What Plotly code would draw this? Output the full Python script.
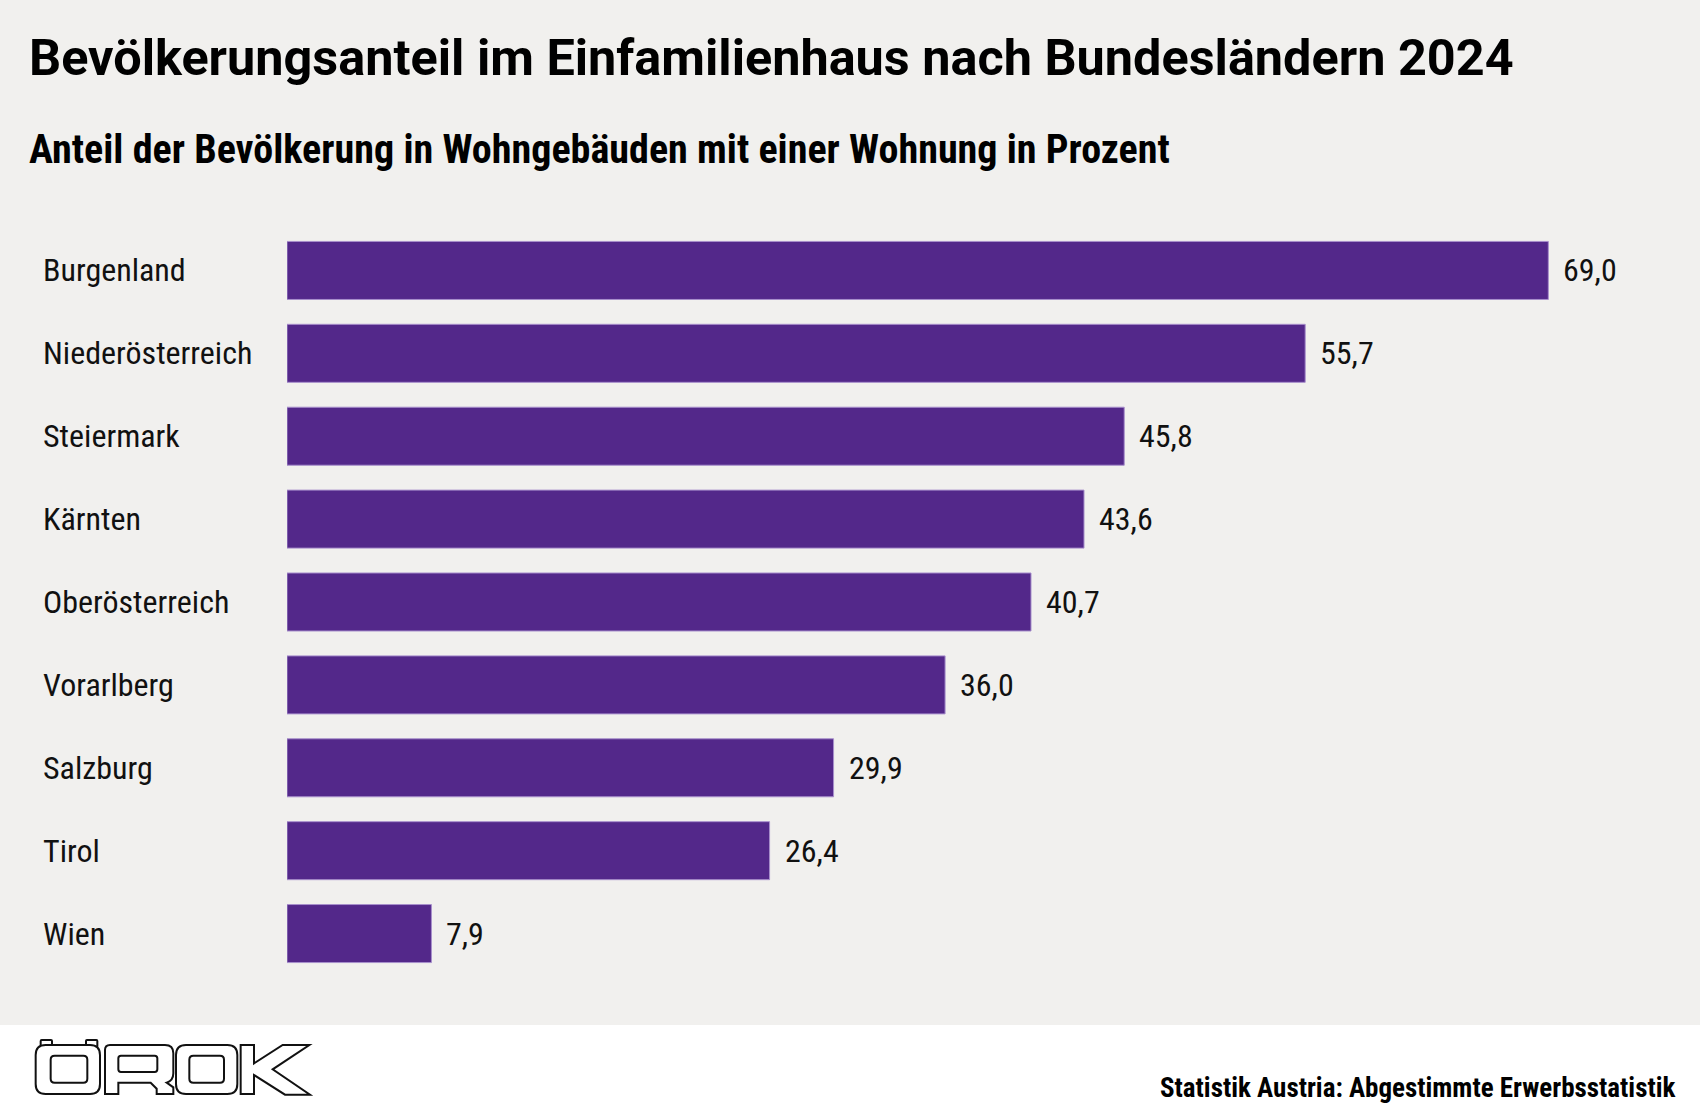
import plotly.graph_objects as go

# ---------------- data ----------------
regions = ["Burgenland", "Niederösterreich", "Steiermark", "Kärnten", "Oberösterreich",
           "Vorarlberg", "Salzburg", "Tirol", "Wien"]
shares = [69.0, 55.7, 45.8, 43.6, 40.7, 36.0, 29.9, 26.4, 7.9]
value_labels = [f"{v:.1f}".replace(".", ",") for v in shares]

title = "Bevölkerungsanteil im Einfamilienhaus nach Bundesländern 2024"
subtitle = "Anteil der Bevölkerung in Wohngebäuden mit einer Wohnung in Prozent"
source = "Statistik Austria: Abgestimmte Erwerbsstatistik"

# ---------------- layout geometry ----------------
W_FIG, H_FIG = 1700, 1110
L, R, T, B = 287, 42, 229, 135
PW, PH = W_FIG - L - R, H_FIG - T - B

BG = "#f1f0ee"
BAR = "#53288a"
COND = "Roboto Condensed, Liberation Sans Narrow, DejaVu Sans Condensed, Roboto, sans-serif"
BOLD = "Roboto, sans-serif"


def px(x):
    return (x - L) / PW


def py(y):
    return 1 - (y - T) / PH


fig = go.Figure()
fig.add_trace(go.Bar(
    x=shares, y=regions, orientation="h",
    marker=dict(color=BAR, line=dict(color="#a88fcc", width=1)),
    hoverinfo="skip",
))

annotations = []
# category labels
for reg in regions:
    annotations.append(dict(x=px(41), xref="paper", y=reg, yref="y", text=reg,
                            showarrow=False, xanchor="left", yanchor="middle",
                            font=dict(family=COND, size=32, color="#111111")))
# value labels
for reg, v, lab in zip(regions, shares, value_labels):
    annotations.append(dict(x=v, xref="x", y=reg, yref="y", text=lab, showarrow=False,
                            xanchor="left", yanchor="middle", xshift=13,
                            font=dict(family=COND, size=32, color="#111111")))
# titles
annotations.append(dict(x=px(27), xref="paper", y=py(26), yref="paper", text=f"<b>{title}</b>",
                        showarrow=False, xanchor="left", yanchor="top",
                        font=dict(family=BOLD, size=50.4, color="#000000")))
annotations.append(dict(x=px(27), xref="paper", y=py(124), yref="paper", text=f"<b>{subtitle}</b>",
                        showarrow=False, xanchor="left", yanchor="top",
                        font=dict(family=COND, size=40.1, color="#000000")))
annotations.append(dict(x=px(1677), xref="paper", y=py(1106), yref="paper", text=f"<b>{source}</b>",
                        showarrow=False, xanchor="right", yanchor="bottom",
                        font=dict(family=COND, size=27, color="#000000")))

shapes = []
# white footer
shapes.append(dict(type="rect", xref="paper", yref="paper", x0=px(0), x1=px(W_FIG),
                   y0=py(1025), y1=py(H_FIG), fillcolor="white", line=dict(width=0), layer="below"))


# ---------------- ÖROK logo (decorative outline drawing) ----------------
def zx(z):
    return z / 3.0


def zy(z):
    return 1010 + z / 3.0


def P(x, y):
    return f"{px(zx(x)):.5f},{py(zy(y)):.5f}"


def rrect(x0, y0, x1, y1, r):
    return (f"M{P(x0 + r, y0)} L{P(x1 - r, y0)} Q{P(x1, y0)} {P(x1, y0 + r)} "
            f"L{P(x1, y1 - r)} Q{P(x1, y1)} {P(x1 - r, y1)} L{P(x0 + r, y1)} "
            f"Q{P(x0, y1)} {P(x0, y1 - r)} L{P(x0, y0 + r)} Q{P(x0, y0)} {P(x0 + r, y0)} Z")


def poly(pts):
    return "M" + " L".join(P(x, y) for x, y in pts) + " Z"


logo_line = dict(color="#111111", width=2)
logo_paths = [
    # Ö dots
    rrect(122, 90, 156, 112, 3),
    rrect(258, 90, 292, 112, 3),
    # Ö
    rrect(107, 105, 300, 252, 30),
    rrect(152, 137, 262, 218, 12),
    # O
    rrect(528, 105, 712, 252, 30),
    rrect(568, 137, 672, 218, 12),
]
# R outline
r_path = (f"M{P(315, 252)} L{P(315, 120)} Q{P(315, 105)} {P(330, 105)} L{P(495, 105)} "
          f"Q{P(520, 105)} {P(520, 130)} L{P(520, 190)} Q{P(520, 212)} {P(500, 218)} "
          f"L{P(520, 232)} L{P(520, 252)} L{P(470, 252)} L{P(470, 236)} L{P(452, 218)} "
          f"L{P(355, 218)} L{P(355, 252)} Z")
logo_paths.insert(4, r_path)
logo_paths.insert(5, rrect(355, 137, 472, 186, 8))
# K outline
k_path = poly([(722, 105), (762, 105), (762, 160), (848, 105), (928, 105), (818, 178),
               (930, 254), (855, 254), (762, 195), (762, 252), (722, 252)])
logo_paths.append(k_path)

for p in logo_paths:
    shapes.append(dict(type="path", xref="paper", yref="paper", path=p,
                       fillcolor="white", line=logo_line, layer="above"))

fig.update_layout(
    width=W_FIG, height=H_FIG,
    margin=dict(l=L, r=R, t=T, b=B, pad=0),
    paper_bgcolor=BG, plot_bgcolor=BG,
    showlegend=False, bargap=0.30,
    xaxis=dict(range=[0, 75], visible=False, fixedrange=True),
    yaxis=dict(categoryorder="array", categoryarray=regions, autorange="reversed",
               visible=False, fixedrange=True),
    annotations=annotations, shapes=shapes,
)

fig.write_html("out.html")
